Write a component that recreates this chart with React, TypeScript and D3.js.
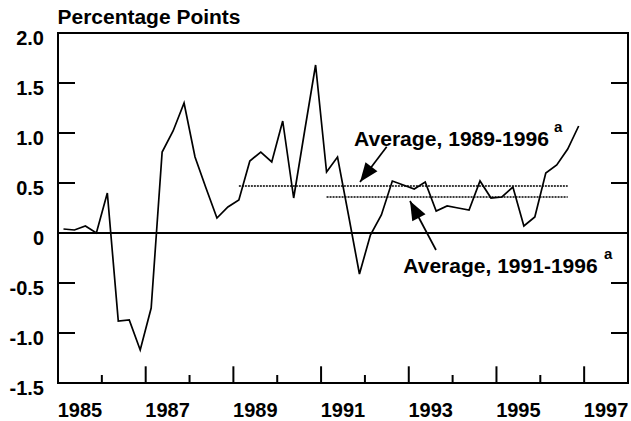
import React from "react";
import * as d3 from "d3";

const startYear = 1985;
const values: number[] = [
  0.04, 0.03, 0.07, 0.0,
  0.4, -0.88, -0.87, -1.17,
  -0.75, 0.81, 1.02, 1.3,
  0.76, 0.45, 0.15, 0.26,
  0.33, 0.72, 0.81, 0.71,
  1.12, 0.35, 1.02, 1.68,
  0.61, 0.76, 0.18, -0.41,
  -0.02, 0.18, 0.52, 0.48,
  0.44, 0.51, 0.22, 0.27,
  0.25, 0.23, 0.52, 0.35,
  0.36, 0.46, 0.07, 0.16,
  0.6, 0.68, 0.84, 1.07,
];
const yTicks = [2.0, 1.5, 1.0, 0.5, 0, -0.5, -1.0, -1.5];
const yTickLabels = ["2.0", "1.5", "1.0", "0.5", "0", "-0.5", "-1.0", "-1.5"];
const xLabelYears = [1985, 1987, 1989, 1991, 1993, 1995, 1997];
const averages = [
  { label: "Average, 1989-1996", value: 0.47, from: 1989.125, to: 1996.625 },
  { label: "Average, 1991-1996", value: 0.36, from: 1991.125, to: 1996.625 },
];

const W = 631;
const H = 421;
const L = 58, R = 628, T = 33, B = 383;
const FONT = "'Liberation Sans', Arial, Helvetica, sans-serif";

export default function App() {
  const x = d3.scaleLinear().domain([1985, 1998]).range([L, R]);
  const y = d3.scaleLinear().domain([-1.5, 2.0]).range([B, T]);
  const pts = values.map((v, i) => [startYear + (i + 0.5) / 4, v] as [number, number]);
  const line = d3.line<[number, number]>().x((d) => x(d[0])).y((d) => y(d[1]));
  const years = d3.range(1986, 1998);

  const ann = [
    { tx: 354, ty: 145.5, len: 195, sx: 554, sy: 132, tail: [386.7, 146.7], tip: [360, 182] },
    { tx: 403.3, ty: 273, len: 194.4, sx: 604, sy: 259, tail: [436, 250], tip: [410, 201] },
  ];

  const arrowHead = (tail: number[], tip: number[]) => {
    const dx = tip[0] - tail[0];
    const dy = tip[1] - tail[1];
    const l = Math.hypot(dx, dy);
    const ux = dx / l, uy = dy / l;
    const hl = 19, hw = 7.5;
    const bx = tip[0] - ux * hl, by = tip[1] - uy * hl;
    return `M${tip[0]},${tip[1]}L${bx - uy * hw},${by + ux * hw}L${bx + uy * hw},${by - ux * hw}Z`;
  };

  return (
    <svg width={W} height={H} style={{ position: "absolute", left: 0, top: 0, background: "#fff" }} fontFamily={FONT} fontWeight="bold">
      <rect x={0} y={0} width={W} height={H} fill="#fff" />
      <text x={57.5} y={24} fontSize={20} textLength={183} lengthAdjust="spacingAndGlyphs">Percentage Points</text>

      {averages.map((a, i) => (
        <line key={"avg" + i} x1={x(a.from)} x2={x(a.to)} y1={y(a.value)} y2={y(a.value)} stroke="#000" strokeWidth={1.4} strokeDasharray="2 1" />
      ))}

      <line x1={L} x2={R} y1={y(0)} y2={y(0)} stroke="#000" strokeWidth={2} />

      <path d={line(pts) || ""} fill="none" stroke="#000" strokeWidth={1.7} strokeLinejoin="miter" />

      <rect x={L} y={T} width={R - L} height={B - T} fill="none" stroke="#000" strokeWidth={2} />

      {yTicks.map((t, i) => (
        <g key={"yt" + i}>
          {t > -1.5 && t < 2 && t !== 0 && (
            <>
              <line x1={L} x2={L + 17} y1={y(t)} y2={y(t)} stroke="#000" strokeWidth={2} />
              <line x1={R - 17} x2={R} y1={y(t)} y2={y(t)} stroke="#000" strokeWidth={2} />
            </>
          )}
          <text x={44} y={y(t) + 11.5} textAnchor="end" fontSize={20}>{yTickLabels[i]}</text>
        </g>
      ))}

      {years.map((yr) => (
        <line key={"xt" + yr} x1={x(yr)} x2={x(yr)} y1={B} y2={B - (yr % 2 === 1 ? 16.7 : 8)} stroke="#000" strokeWidth={2} />
      ))}
      {xLabelYears.map((yr) => (
        <text key={"xl" + yr} x={x(yr + 0.5)} y={417} textAnchor="middle" fontSize={20}>{yr}</text>
      ))}

      {averages.map((a, i) => {
        const g = ann[i];
        return (
          <g key={"ann" + i}>
            <text x={g.tx} y={g.ty} fontSize={20} textLength={g.len} lengthAdjust="spacingAndGlyphs">{a.label}</text>
            <text x={g.sx} y={g.sy} fontSize={15}>a</text>
            <line x1={g.tail[0]} y1={g.tail[1]} x2={g.tip[0]} y2={g.tip[1]} stroke="#000" strokeWidth={1.7} />
            <path d={arrowHead(g.tail, g.tip)} fill="#000" />
          </g>
        );
      })}
    </svg>
  );
}
